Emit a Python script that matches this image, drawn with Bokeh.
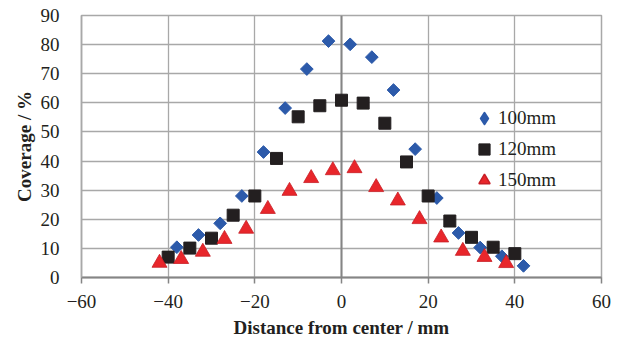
import numpy as np
from bokeh.plotting import figure
from bokeh.models import Range1d, FixedTicker, Legend, LegendItem, Span
from bokeh.embed import file_html
from bokeh.resources import INLINE

# ---- data ----
x100 = [-38, -33, -28, -23, -18, -13, -8, -3, 2, 7, 12, 17, 22, 27, 32, 37, 42]
y100 = [10.4, 14.6, 18.6, 28.0, 43.1, 58.2, 71.6, 81.2, 80.1, 75.7, 64.4, 44.1, 27.3, 15.3, 10.3, 7.3, 4.0]

x120 = [-40, -35, -30, -25, -20, -15, -10, -5, 0, 5, 10, 15, 20, 25, 30, 35, 40]
y120 = [7.0, 10.1, 13.5, 21.4, 28.0, 40.9, 55.2, 59.0, 60.9, 59.9, 53.0, 39.7, 28.0, 19.4, 13.8, 10.4, 8.2]

x150 = [-42, -37, -32, -27, -22, -17, -12, -7, -2, 3, 8, 13, 18, 23, 28, 33, 38]
y150 = [5.0, 6.3, 8.8, 13.2, 16.7, 23.5, 29.7, 34.1, 36.8, 37.5, 31.0, 26.4, 20.0, 13.7, 9.1, 7.0, 4.9]

series_names = ["100mm", "120mm", "150mm"]
x_ticks = [-60, -40, -20, 0, 20, 40, 60]
y_ticks = [0, 10, 20, 30, 40, 50, 60, 70, 80, 90]

FONT = "Liberation Serif"
TXT = "#231F20"
BLUE = "#2C5AAA"
BLACK = "#231F20"
RED = "#E8262B"
RED_EDGE = "#C81E26"
GRID = "#A8A8A8"
AXIS = "#858585"

p = figure(width=624, height=340, output_backend="svg", toolbar_location=None,
           x_range=Range1d(-60, 60), y_range=Range1d(0, 90),
           min_border_left=81, min_border_right=23, min_border_top=15, min_border_bottom=63,
           background_fill_color="white", border_fill_color="white")

p.outline_line_color = GRID
p.outline_line_width = 1.5

p.xaxis.ticker = FixedTicker(ticks=x_ticks)
p.yaxis.ticker = FixedTicker(ticks=y_ticks)
p.xaxis.minor_tick_line_color = None
p.yaxis.minor_tick_line_color = None

for g in (p.xgrid, p.ygrid):
    g.grid_line_color = GRID
    g.grid_line_width = 1.3

# vertical axis line of the original chart crosses at x = 0 (drawn behind the markers)
p.add_layout(Span(location=0, dimension="height", line_color=AXIS, line_width=2,
                  level="underlay"))

p.xaxis.axis_line_color = AXIS
p.xaxis.axis_line_width = 2
p.xaxis.major_tick_line_color = AXIS
p.xaxis.major_tick_line_width = 1.5
p.xaxis.major_tick_out = 6
p.xaxis.major_tick_in = 0
p.xaxis.major_label_standoff = 11

p.yaxis.axis_line_color = GRID
p.yaxis.axis_line_width = 1.5
p.yaxis.major_tick_out = 0
p.yaxis.major_tick_in = 0
p.yaxis.major_label_standoff = 22

for ax in (p.xaxis, p.yaxis):
    ax.major_label_text_font = FONT
    ax.major_label_text_font_size = "19px"
    ax.major_label_text_color = TXT
    ax.axis_label_text_font = FONT
    ax.axis_label_text_font_size = "19px"
    ax.axis_label_text_font_style = "bold"
    ax.axis_label_text_color = TXT

p.xaxis.axis_label = "Distance from center / mm"
p.yaxis.axis_label = "Coverage / %"
p.xaxis.axis_label_standoff = 6
p.yaxis.axis_label_standoff = 3

# data markers
r1 = p.scatter(x100, y100, marker="square", angle=np.pi / 4, size=9,
               fill_color=BLUE, line_color=BLUE)
r2 = p.scatter(x120, y120, marker="square", size=12,
               fill_color=BLACK, line_color=BLACK)
r3 = p.scatter(x150, y150, marker="triangle", size=15,
               fill_color=RED, line_color=RED_EDGE, line_width=0.8)

# legend-only glyphs (a single NaN point, never drawn in the plot area);
# the legend ignores marker angles, so the diamond uses the "diamond" marker
NAN = [float("nan")]
k1 = p.scatter(x=NAN, y=NAN, marker="diamond", fill_color=BLUE, line_color=BLUE,
               line_width=2, line_join="round")
k3 = p.scatter(x=NAN, y=NAN, marker="triangle", fill_color=RED, line_color=RED_EDGE, line_width=1.5)

legend = Legend(items=[LegendItem(label=series_names[0], renderers=[k1]),
                       LegendItem(label=series_names[1], renderers=[r2]),
                       LegendItem(label=series_names[2], renderers=[k3])],
                location=(389, 83), orientation="vertical",
                glyph_width=28, glyph_height=28, spacing=3, label_standoff=0,
                padding=0, margin=0,
                background_fill_alpha=0, border_line_color=None,
                label_text_font=FONT, label_text_font_size="19px",
                label_text_color=TXT)
p.add_layout(legend)

open("out.html", "w").write(file_html(p, INLINE))
